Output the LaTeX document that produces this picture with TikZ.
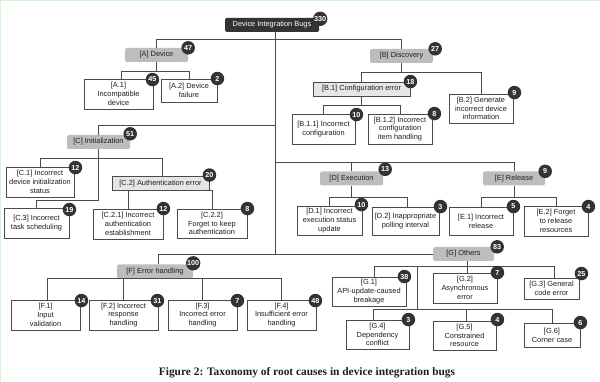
\documentclass[tikz,border=0pt]{standalone}
\usepackage{fontspec}
\setmainfont{Liberation Sans}
\newfontfamily\capfont{Liberation Serif}
\usetikzlibrary{calc}
\definecolor{rootgray}{HTML}{333333}
\definecolor{catgray}{HTML}{BDBDBD}
\definecolor{subgray}{HTML}{E6E6E6}
\definecolor{edgegray}{HTML}{4A4A4A}
\definecolor{txtgray}{HTML}{1E1E1E}
\definecolor{framegreen}{HTML}{DCF0DC}
\tikzset{
  base/.style={inner sep=0pt, align=center, text=txtgray,
    font=\fontsize{7.4}{8.8}\selectfont},
  rootbox/.style={base, fill=rootgray, text=white, rounded corners=1.5pt},
  catbox/.style={base, fill=catgray, rounded corners=2pt},
  subbox/.style={base, fill=subgray, draw=edgegray, line width=0.9pt},
  leafbox/.style={base, fill=white, draw=edgegray, line width=0.9pt},
  badge/.style={circle, fill=rootgray, text=white, inner sep=0.5pt,
    minimum size=13.5pt, font=\fontsize{7.2}{7.5}\selectfont\bfseries},
  conn/.style={draw=edgegray, line width=0.9pt},
}
\begin{document}
\begin{tikzpicture}[x=1pt,y=-1pt]
\useasboundingbox (0,0) rectangle (600,382);
\fill[white] (0,0) rectangle (600,382);
\draw[framegreen, line width=1.2pt] (0.6,382) -- (0.6,0.6) -- (600,0.6);

% ---------- nodes ----------
\node[rootbox, minimum width=94, minimum height=14] (root) at (272,25) {Device Integration Bugs};

\node[catbox, minimum width=63, minimum height=14] (A) at (156.5,55) {[A] Device};
\node[leafbox, minimum width=69, minimum height=30] (A1) at (118.5,94) {[A.1]\\Incompatible\\device};
\node[leafbox, minimum width=56, minimum height=23] (A2) at (189,90.5) {[A.2] Device\\failure};

\node[catbox, minimum width=63, minimum height=14] (B) at (401.5,56) {[B] Discovery};
\node[subbox, minimum width=97, minimum height=14] (B1) at (361.5,89) {[B.1] Configuration error};
\node[leafbox, minimum width=64, minimum height=29] (B2) at (481,108.5) {[B.2] Generate\\incorrect device\\information};
\node[leafbox, minimum width=63, minimum height=30] (B11) at (323.5,129) {[B.1.1] Incorrect\\configuration};
\node[leafbox, minimum width=64, minimum height=30] (B12) at (400,129) {[B.1.2] Incorrect\\configuration\\item handling};

\node[catbox, minimum width=63, minimum height=14] (C) at (98.5,142) {[C] Initialization};
\node[leafbox, minimum width=68, minimum height=30] (C1) at (40,182) {[C.1] Incorrect\\device initialization\\status};
\node[subbox, minimum width=97, minimum height=14] (C2) at (160.5,183.5) {[C.2] Authentication error};
\node[leafbox, minimum width=65, minimum height=30] (C3) at (36.5,223) {[C.3] Incorrect\\task scheduling};
\node[leafbox, minimum width=70, minimum height=30] (C21) at (128,224) {[C.2.1] Incorrect\\authentication\\establishment};
\node[leafbox, minimum width=70, minimum height=29] (C22) at (212,223.5) {[C.2.2]\\Forget to keep\\authentication};

\node[catbox, minimum width=63, minimum height=14] (D) at (351.5,178.5) {[D] Execution};
\node[leafbox, minimum width=65, minimum height=29] (D1) at (329.5,220.5) {[D.1] Incorrect\\execution status\\update};
\node[leafbox, minimum width=67, minimum height=28] (D2) at (405.5,221) {[D.2] Inappropriate\\polling interval};

\node[catbox, minimum width=62, minimum height=14] (E) at (514,178.5) {[E] Release};
\node[leafbox, minimum width=64, minimum height=28] (E1) at (481,221) {[E.1] Incorrect\\release};
\node[leafbox, minimum width=64, minimum height=30] (E2) at (556,221) {[E.2] Forget\\to release\\resources};

\node[catbox, minimum width=76, minimum height=14] (F) at (155,271.5) {[F] Error handling};
\node[leafbox, minimum width=69, minimum height=30] (F1) at (45.5,315) {[F.1]\\Input\\validation};
\node[leafbox, minimum width=69, minimum height=30] (F2) at (123.5,315) {[F.2] Incorrect\\response\\handling};
\node[leafbox, minimum width=69, minimum height=30] (F3) at (202.5,315) {[F.3]\\Incorrect error\\handling};
\node[leafbox, minimum width=69, minimum height=30] (F4) at (281.5,315) {[F.4]\\Insufficient error\\handling};

\node[catbox, minimum width=61, minimum height=14] (G) at (463.5,254) {[G] Others};
\node[leafbox, minimum width=74, minimum height=29] (G1) at (369,291.5) {[G.1]\\API-update-caused\\breakage};
\node[leafbox, minimum width=64, minimum height=30] (G2) at (465,288) {[G.2]\\Asynchronous\\error};
\node[leafbox, minimum width=55, minimum height=21] (G3) at (551.5,288.5) {[G.3] General\\code error};
\node[leafbox, minimum width=63, minimum height=29] (G4) at (377.5,334.5) {[G.4]\\Dependency\\conflict};
\node[leafbox, minimum width=63, minimum height=29] (G5) at (464.5,335.5) {[G.5]\\Constrained\\resource};
\node[leafbox, minimum width=56, minimum height=24] (G6) at (552,335) {[G.6]\\Corner case};

% ---------- bus levels ----------
\coordinate (yAB) at (0,39);
\coordinate (yC) at (0,125);
\coordinate (yDE) at (0,162);
\coordinate (yFG) at (0,254);
\coordinate (yA) at (0,71);
\coordinate (yB) at (0,72);
\coordinate (yB1) at (0,105);
\coordinate (yC12) at (0,158);
\coordinate (yC3) at (0,200);
\coordinate (yC2) at (0,200);
\coordinate (yD) at (0,197);
\coordinate (yE) at (0,197);
\coordinate (yF) at (0,291);
\coordinate (yG) at (0,266);
\coordinate (yG2) at (0,309);
\coordinate (tr) at ($(root.south)+(3,0)$);
\coordinate (gtop) at ($(G.south)+(3.5,0)$);
\coordinate (gsplit) at (417,266);

% ---------- connectors ----------
\begin{scope}[conn]
  \draw (tr) -- (tr |- yFG);
  \draw (A.north) |- (tr |- yAB);
  \draw (B.north) |- (tr |- yAB);
  \draw (C.north) |- (tr |- yC);
  \draw (D.north) |- (tr |- yDE);
  \draw (E.north) |- (tr |- yDE);
  \draw ($(F.north)+(3,0)$) |- (tr |- yFG);
  \draw (G.west) -- (tr |- yFG);

  \draw (A.south) -- (A.south |- yA);
  \draw ($(A1.north)+(3,0)$) |- (A.south |- yA);
  \draw (A2.north) |- (A.south |- yA);

  \draw (B.south) -- (B.south |- yB);
  \draw (B1.north) |- (B.south |- yB);
  \draw (B2.north) |- (B.south |- yB);

  \draw (B1.south) -- (B1.south |- yB1);
  \draw (B11.north) |- (B1.south |- yB1);
  \draw (B12.north) |- (B1.south |- yB1);

  \draw (C.south) -- (C.south |- yC3);
  \draw (C1.north) |- (C.south |- yC12);
  \draw ($(C2.north)+(1.5,0)$) |- (C.south |- yC12);
  \draw (C3.north) |- (C.south |- yC3);

  \draw ($(C2.south)+(1.5,0)$) -- ($(C2.south)+(1.5,0)$ |- yC2);
  \draw (C21.north) |- ($(C2.south)+(1.5,0)$ |- yC2);
  \draw (C22.north) |- ($(C2.south)+(1.5,0)$ |- yC2);

  \draw (D.south) -- (D.south |- yD);
  \draw (D1.north) |- (D.south |- yD);
  \draw ($(D2.north)+(1.5,0)$) |- (D.south |- yD);

  \draw (E.south) -- (E.south |- yE);
  \draw (E1.north) |- (E.south |- yE);
  \draw (E2.north) |- (E.south |- yE);

  \draw ($(F.south)+(3,0)$) -- ($(F.south)+(3,0)$ |- yF);
  \draw ($(F1.north)+(2,0)$) |- ($(F.south)+(3,0)$ |- yF);
  \draw (F2.north) |- ($(F.south)+(3,0)$ |- yF);
  \draw (F3.north) |- ($(F.south)+(3,0)$ |- yF);
  \draw (F4.north) |- ($(F.south)+(3,0)$ |- yF);

  \draw (gtop) -- (gtop |- yG);
  \draw ($(G1.north)+(5,0)$) |- (gtop |- yG);
  \draw ($(G2.north)+(2,0)$) |- (gtop |- yG);
  \draw ($(G3.north)+(2.5,0)$) |- (gtop |- yG);
  \draw (gsplit) -- (gsplit |- yG2);
  \draw ($(G4.north)+(-4.5,0)$) |- (gsplit |- yG2);
  \draw ($(G5.north)+(1.5,0)$) |- (gsplit |- yG2);
  \draw (G6.north) |- (gsplit |- yG2);
\end{scope}

% ---------- badges ----------
\node[badge] at ($(root.north east)+(1,1)$) {330};
\node[badge] at (A.north east) {47};
\node[badge] at ($(A1.north east)+(-1,1)$) {45};
\node[badge] at (A2.north east) {2};
\node[badge] at ($(B.north east)+(2,0)$) {27};
\node[badge] at (B1.north east) {18};
\node[badge] at ($(B2.north east)+(1,-1)$) {9};
\node[badge] at ($(B11.north east)+(1,1)$) {10};
\node[badge] at ($(B12.north east)+(2,0)$) {8};
\node[badge] at ($(C.north east)+(0,-1)$) {51};
\node[badge] at ($(C1.north east)+(1,1)$) {12};
\node[badge] at ($(C2.north east)+(0,-1)$) {20};
\node[badge] at ($(C3.north east)+(0,2)$) {19};
\node[badge] at (C21.north east) {12};
\node[badge] at (C22.north east) {8};
\node[badge] at ($(D.north east)+(2,-2)$) {13};
\node[badge] at ($(D1.north east)+(-1,-1)$) {10};
\node[badge] at ($(D2.north east)+(1,0)$) {3};
\node[badge] at (E.north east) {9};
\node[badge] at (E1.north east) {5};
\node[badge] at ($(E2.north east)+(0,1)$) {4};
\node[badge] at ($(F.north east)+(0,-1)$) {100};
\node[badge] at ($(F1.north east)+(1,1)$) {14};
\node[badge] at ($(F2.north east)+(-1,1)$) {31};
\node[badge] at ($(F3.north east)+(0,1)$) {7};
\node[badge] at ($(F4.north east)+(-1,1)$) {48};
\node[badge] at ($(G.north east)+(3,0)$) {83};
\node[badge] at ($(G1.north east)+(-2,0)$) {38};
\node[badge] at (G2.north east) {7};
\node[badge] at ($(G3.north east)+(2,-4)$) {25};
\node[badge] at ($(G4.north east)+(-1,0)$) {3};
\node[badge] at ($(G5.north east)+(1,-1)$) {4};
\node[badge] at (G6.north east) {6};

% ---------- caption ----------
\node[font=\capfont\fontsize{11.4}{13}\selectfont\bfseries, text=txtgray, inner sep=0pt] (cap) at (307,373) {Figure 2: Taxonomy of root causes in device integration bugs};
\end{tikzpicture}
\end{document}
